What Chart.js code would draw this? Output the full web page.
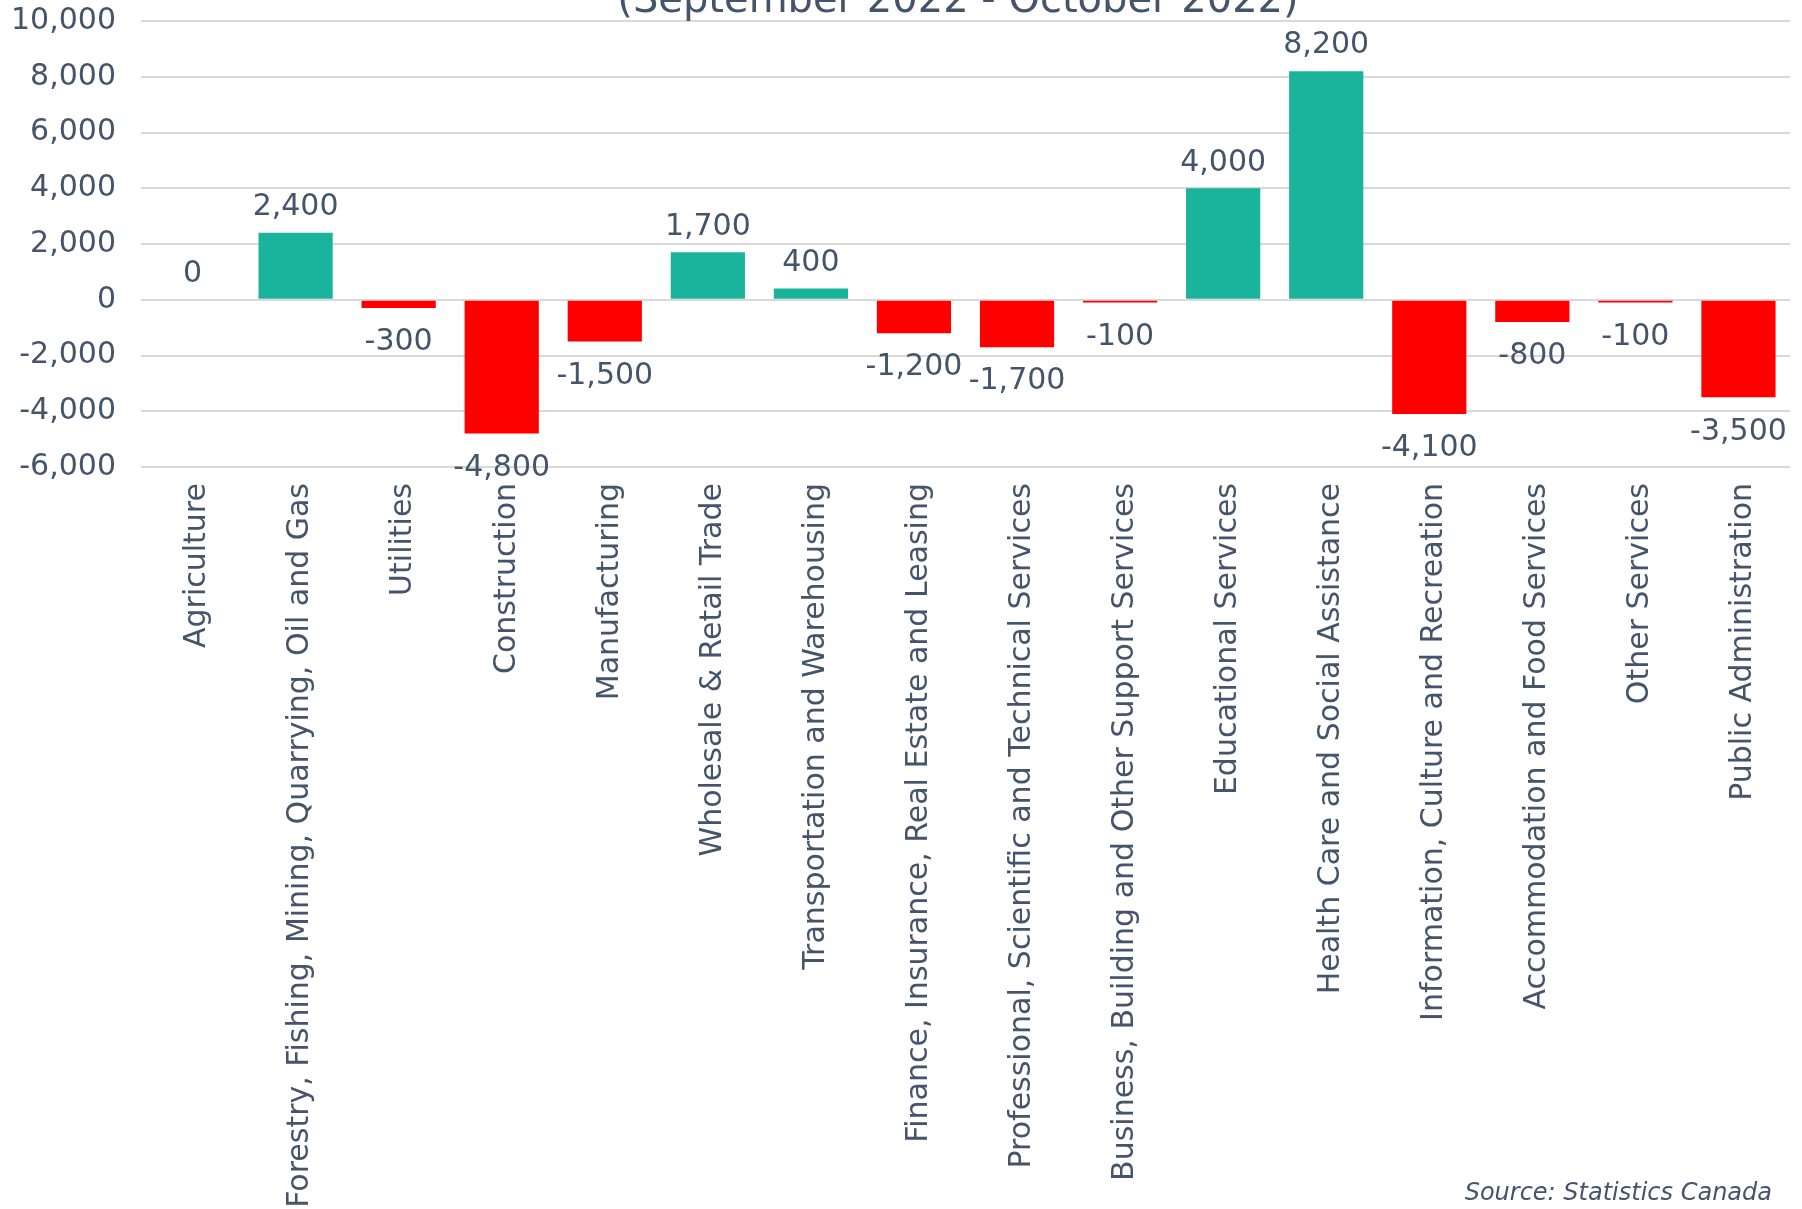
<!doctype html>
<html lang="en">
<head>
  <meta charset="utf-8" />
  <title>Employment Change by Industry</title>
  <script src="https://cdn.jsdelivr.net/npm/chart.js@4.4.1/dist/chart.umd.min.js"></script>
  <style>
    *{box-sizing:border-box;margin:0;padding:0}
    html,body{background:#fff;overflow:hidden}
    #wrap{width:1802px;height:1209px;position:relative}
  </style>
</head>
<body>
  <div id="wrap"><canvas id="chart"></canvas></div>

  <script>
    // --- data ---
    const industries = [
      'Agriculture',
      'Forestry, Fishing, Mining, Quarrying, Oil and Gas',
      'Utilities',
      'Construction',
      'Manufacturing',
      'Wholesale & Retail Trade',
      'Transportation and Warehousing',
      'Finance, Insurance, Real Estate and Leasing',
      'Professional, Scientific and Technical Services',
      'Business, Building and Other Support Services',
      'Educational Services',
      'Health Care and Social Assistance',
      'Information, Culture and Recreation',
      'Accommodation and Food Services',
      'Other Services',
      'Public Administration'
    ];
    const changes = [0, 2400, -300, -4800, -1500, 1700, 400, -1200, -1700, -100, 4000, 8200, -4100, -800, -100, -3500];

    const yMin = -6000, yMax = 10000, yStep = 2000;
    const subtitle = '(September 2022 - October 2022)';
    const sourceNote = 'Source: Statistics Canada';

    // --- style ---
    const TEXT = '#44546A';
    const GREEN = '#1AB39B';
    const RED = '#FF0000';
    const FAMILY = '"DejaVu Sans", Verdana, sans-serif';
    const SIZE = 30;
    const fmt = v => v.toLocaleString('en-US');

    Chart.defaults.font.family = FAMILY;
    Chart.defaults.font.size = SIZE;
    Chart.defaults.color = TEXT;

    // value labels above / below each bar
    const valueLabels = {
      id: 'valueLabels',
      afterDatasetsDraw(chart){
        const {ctx} = chart;
        const meta = chart.getDatasetMeta(0);
        ctx.save();
        ctx.font = `${SIZE}px ${FAMILY}`;
        ctx.fillStyle = TEXT;
        ctx.textAlign = 'center';
        ctx.textBaseline = 'middle';
        meta.data.forEach((bar, i) => {
          const v = changes[i];
          const y = v < 0 ? bar.y + 34.5 : bar.y - 25.5;
          ctx.fillText(fmt(v), bar.x, y);
        });
        ctx.restore();
      }
    };

    // cut-off subtitle at the top and the source note at the bottom
    const extraText = {
      id: 'extraText',
      afterDraw(chart){
        const {ctx} = chart;
        ctx.save();
        ctx.fillStyle = TEXT;
        ctx.font = `40px ${FAMILY}`;
        ctx.textAlign = 'center';
        ctx.textBaseline = 'alphabetic';
        ctx.fillText(subtitle, 958, 12);

        ctx.font = `italic 24px ${FAMILY}`;
        ctx.textAlign = 'right';
        ctx.fillText(sourceNote, 1772, 1200);
        ctx.restore();
      }
    };

    new Chart(document.getElementById('chart'), {
      type: 'bar',
      data: {
        labels: industries,
        datasets: [{
          data: changes,
          backgroundColor: changes.map(v => v < 0 ? RED : GREEN),
          borderWidth: 0
        }]
      },
      options: {
        responsive: true,
        maintainAspectRatio: false,
        animation: false,
        layout: {padding: {top: 21, right: 12, left: 0, bottom: 0}},
        plugins: {
          legend: {display: false},
          tooltip: {enabled: false}
        },
        scales: {
          x: {
            grid: {display: false, drawTicks: false},
            border: {display: false},
            ticks: {minRotation: 90, maxRotation: 90, padding: 16, labelOffset: 5, autoSkip: false},
            afterFit(scale){ scale.height = 742; }
          },
          y: {
            min: yMin,
            max: yMax,
            grid: {color: '#D9D9D9', lineWidth: 2, drawTicks: false},
            border: {display: false},
            ticks: {stepSize: yStep, padding: 25, callback: v => fmt(v)},
            afterFit(scale){
              scale.width = 141;
              scale.paddingTop = 0;
              scale.paddingBottom = 0;
            }
          }
        }
      },
      plugins: [valueLabels, extraText]
    });
  </script>
</body>
</html>
